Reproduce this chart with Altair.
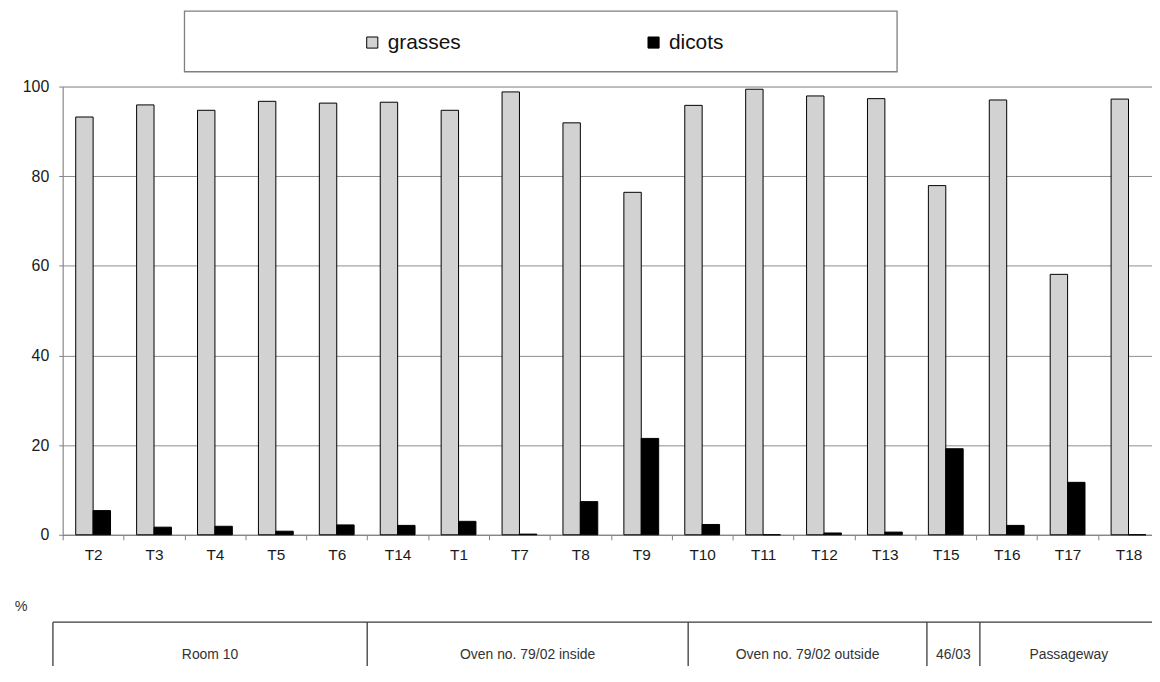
import altair as alt
import pandas as pd

# ---- data ----
samples = ["T2", "T3", "T4", "T5", "T6", "T14", "T1", "T7", "T8", "T9",
           "T10", "T11", "T12", "T13", "T15", "T16", "T17", "T18"]
grasses = [93.2, 95.9, 94.7, 96.7, 96.3, 96.5, 94.7, 98.8, 91.9, 76.4,
           95.8, 99.4, 97.9, 97.3, 77.9, 97.0, 58.1, 97.2]
dicots = [5.4, 1.7, 1.9, 0.8, 2.2, 2.1, 3.0, 0.15, 7.4, 21.5,
          2.3, 0.0, 0.4, 0.6, 19.2, 2.1, 11.7, 0.0]
series = ["grasses", "dicots"]
series_colors = ["#d2d2d2", "#000000"]
y_ticks = [0, 20, 40, 60, 80, 100]

# location groups shown in the table under the chart (spans in sample units)
groups = ["Room 10", "Oven  no. 79/02 inside", "Oven no. 79/02 outside", "46/03", "Passageway"]
group_start = [-0.16, 5.00, 10.27, 14.19, 15.06]
group_end = [5.00, 10.27, 14.19, 15.06, 17.98]

# ---- tables ----
rows = []
for s, g, d in zip(samples, grasses, dicots):
    rows.append({"sample": s, "series": "grasses", "value": g})
    rows.append({"sample": s, "series": "dicots", "value": d})
df = pd.DataFrame(rows)

gdf = pd.DataFrame({"group": groups, "start": group_start, "end": group_end})
gdf["mid"] = (gdf["start"] + gdf["end"]) / 2

# layout constants (in scale units)
TABLE_TOP = -19.5
TABLE_BOTTOM = -29.5
TABLE_TEXT = -26.9
FONT = "Liberation Sans"
X_RANGE = [0, 1103]   # plot runs past the right edge of the picture

yscale = alt.Scale(domain=[0, 100], nice=False, zero=False)
xq = alt.Scale(domain=[0, 18], range=X_RANGE, nice=False, zero=False)
y_axis = alt.Axis(title=None, values=y_ticks, labelFontSize=16,
                  labelColor="#1a1a1a", labelFont=FONT,
                  gridColor="#8c8c8c", domainColor="#808080",
                  tickColor="#808080", tickSize=4, labelPadding=10,
                  grid=True)


def ych(field):
    return alt.Y(field, scale=yscale, title=None, axis=y_axis)


bars = alt.Chart(df).mark_bar(stroke="black", strokeWidth=1).encode(
    x=alt.X("sample:N", sort=samples,
            scale=alt.Scale(paddingInner=0, paddingOuter=0, range=X_RANGE),
            axis=alt.Axis(title=None, labelAngle=0, labelFontSize=15.5,
                          labelColor="#1a1a1a", labelFont=FONT,
                          domainColor="#808080", tickColor="#808080",
                          tickSize=5, tickBand="extent", labelPadding=8,
                          grid=False)),
    xOffset=alt.XOffset("series:N", sort=series,
                        scale=alt.Scale(domain=series, paddingInner=0, paddingOuter=0.75)),
    y=ych("value:Q"),
    color=alt.Color("series:N", sort=series,
                    scale=alt.Scale(domain=series, range=series_colors),
                    legend=alt.Legend(title=None, orient="none", direction="horizontal",
                                      legendX=301, legendY=-55,
                                      symbolType="square", symbolSize=125,
                                      symbolStrokeColor="black", symbolStrokeWidth=1,
                                      labelFontSize=21, labelFont=FONT,
                                      labelColor="#111111", labelOffset=5,
                                      columnPadding=183, padding=0)),
)

legend_box = alt.Chart(pd.DataFrame({"x0": [2.0], "x1": [13.70],
                                     "y0": [103.3], "y1": [116.8]})).mark_rect(
    filled=False, stroke="#7f7f7f", strokeWidth=1.3
).encode(
    x=alt.X("x0:Q", scale=xq, axis=None), x2="x1",
    y=ych("y0:Q"), y2="y1",
)

table_top = alt.Chart(gdf).transform_aggregate(
    s="min(start)"
).transform_calculate(e="18.4", t=str(TABLE_TOP)).mark_rule(
    color="#3a3a3a", strokeWidth=1.3
).encode(
    x=alt.X("s:Q", scale=xq, axis=None), x2="e:Q",
    y=ych("t:Q"),
)

table_lines = alt.Chart(gdf).transform_calculate(
    t=str(TABLE_TOP), b=str(TABLE_BOTTOM)
).mark_rule(color="#3a3a3a", strokeWidth=1.3).encode(
    x=alt.X("start:Q", scale=xq, axis=None),
    y=ych("t:Q"), y2="b:Q",
)

table_text = alt.Chart(gdf).transform_calculate(
    ty=str(TABLE_TEXT)
).mark_text(fontSize=14, font=FONT, color="#333333", baseline="middle").encode(
    x=alt.X("mid:Q", scale=xq, axis=None),
    y=ych("ty:Q"),
    text="group:N",
)

pct = alt.Chart(pd.DataFrame({"x": [-0.68], "y": [-16.1], "t": ["%"]})).mark_text(
    fontSize=14.5, font=FONT, color="#333333", baseline="middle"
).encode(
    x=alt.X("x:Q", scale=xq, axis=None),
    y=ych("y:Q"),
    text="t:N",
)

chart = alt.layer(bars, legend_box, table_top, table_lines, table_text, pct).resolve_scale(
    x="independent"
).properties(
    width=1096, height=451,
    autosize=alt.AutoSizeParams(type="none"),
    padding={"left": 55, "top": 77, "right": 0, "bottom": 130},
).configure_view(stroke="transparent").configure(font=FONT)

chart.save("out.html", embed_options={"renderer": "svg", "actions": False})
